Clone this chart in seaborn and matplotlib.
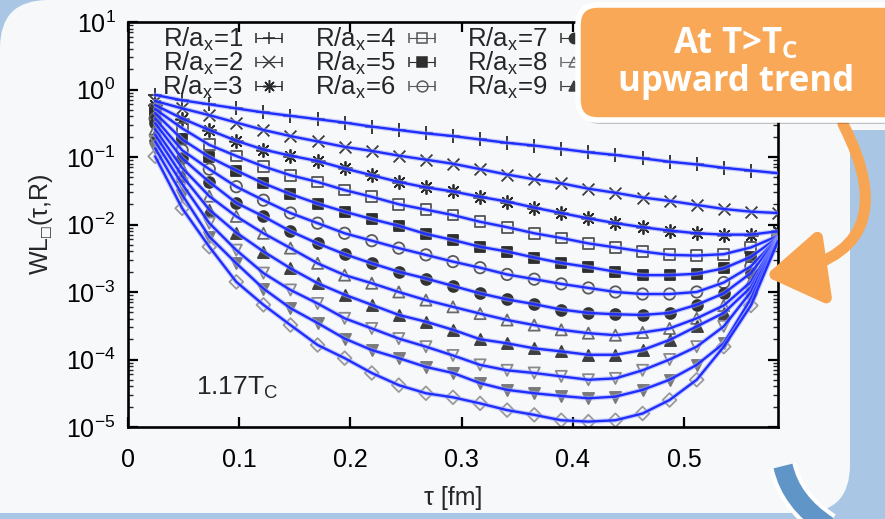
import numpy as np
import pandas as pd
import matplotlib
matplotlib.use("Agg")
import matplotlib.pyplot as plt
import seaborn as sns
from matplotlib.patches import FancyBboxPatch, FancyArrowPatch, PathPatch, Rectangle
from matplotlib.path import Path
from matplotlib.transforms import IdentityTransform
import matplotlib.patheffects as pe
from matplotlib.ticker import LogLocator, NullFormatter

# ---------------- data ----------------
tau_fm = [0.0244, 0.0487, 0.0731, 0.0974, 0.1218, 0.1461, 0.1705, 0.1948,
          0.2192, 0.2435, 0.2679, 0.2922, 0.3166, 0.3409, 0.3653, 0.3896,
          0.4140, 0.4383, 0.4627, 0.4870, 0.5114, 0.5357, 0.5601, 0.5844]

# log10 of WL(tau, R) for R/a_x = 1 ... 12
log10_wl_R1 = [-0.08, -0.16, -0.22, -0.28, -0.34, -0.39, -0.44, -0.49, -0.55, -0.60, -0.65, -0.69,
               -0.74, -0.79, -0.83, -0.88, -0.93, -0.97, -1.02, -1.07, -1.11, -1.16, -1.20, -1.24]
log10_wl_R2 = [-0.17, -0.28, -0.38, -0.49, -0.60, -0.69, -0.77, -0.85, -0.91, -0.98, -1.04, -1.10,
               -1.18, -1.26, -1.33, -1.39, -1.47, -1.53, -1.60, -1.65, -1.71, -1.77, -1.81, -1.83]
log10_wl_R3 = [-0.23, -0.43, -0.60, -0.76, -0.89, -0.98, -1.06, -1.17, -1.27, -1.37, -1.45, -1.51,
               -1.59, -1.66, -1.75, -1.83, -1.91, -1.98, -2.04, -2.09, -2.13, -2.15, -2.15, -2.10]
log10_wl_R4 = [-0.29, -0.575, -0.82, -0.985, -1.14, -1.27, -1.37, -1.49, -1.59, -1.70, -1.78, -1.86,
               -1.96, -2.04, -2.13, -2.20, -2.28, -2.34, -2.40, -2.45, -2.46, -2.44, -2.34, -2.17]
log10_wl_R5 = [-0.35, -0.74, -1.00, -1.20, -1.39, -1.55, -1.69, -1.81, -1.92, -2.02, -2.14, -2.23,
               -2.33, -2.40, -2.49, -2.57, -2.63, -2.70, -2.75, -2.75, -2.73, -2.65, -2.48, -2.19]
log10_wl_R6 = [-0.43, -0.90, -1.18, -1.44, -1.64, -1.83, -1.98, -2.13, -2.24, -2.35, -2.45, -2.55,
               -2.64, -2.74, -2.81, -2.88, -2.94, -3.00, -3.03, -3.03, -3.00, -2.86, -2.62, -2.20]
log10_wl_R7 = [-0.50, -1.02, -1.37, -1.68, -1.88, -2.10, -2.28, -2.44, -2.575, -2.70, -2.80, -2.91,
               -3.02, -3.11, -3.18, -3.26, -3.31, -3.33, -3.34, -3.31, -3.19, -3.02, -2.72, -2.20]
log10_wl_R8 = [-0.59, -1.16, -1.58, -1.88, -2.13, -2.35, -2.575, -2.75, -2.87, -3.00, -3.12, -3.22,
               -3.32, -3.415, -3.49, -3.56, -3.61, -3.64, -3.60, -3.54, -3.39, -3.20, -2.85, -2.21]
log10_wl_R9 = [-0.67, -1.28, -1.78, -2.12, -2.40, -2.65, -2.87, -3.04, -3.19, -3.34, -3.44, -3.56,
               -3.70, -3.76, -3.835, -3.88, -3.93, -3.93, -3.86, -3.71, -3.51, -3.31, -2.93, -2.22]
log10_wl_R10 = [-0.77, -1.40, -1.98, -2.38, -2.72, -2.97, -3.17, -3.39, -3.54, -3.69, -3.81, -3.94,
                -4.08, -4.16, -4.20, -4.25, -4.30, -4.28, -4.16, -4.00, -3.81, -3.51, -3.00, -2.23]
log10_wl_R11 = [-0.87, -1.56, -2.18, -2.575, -2.95, -3.24, -3.46, -3.69, -3.86, -3.98, -4.11, -4.20,
                -4.35, -4.45, -4.50, -4.54, -4.575, -4.55, -4.45, -4.30, -4.08, -3.76, -3.10, -2.24]
log10_wl_R12 = [-0.99, -1.76, -2.33, -2.85, -3.19, -3.49, -3.785, -3.98, -4.20, -4.38, -4.50, -4.56,
                -4.65, -4.75, -4.82, -4.90, -4.92, -4.90, -4.80, -4.60, -4.30, -3.81, -3.20, -2.25]

R_over_a = [1, 2, 3, 4, 5, 6, 7, 8, 9, 10, 11, 12]
series = [log10_wl_R1, log10_wl_R2, log10_wl_R3, log10_wl_R4, log10_wl_R5, log10_wl_R6,
          log10_wl_R7, log10_wl_R8, log10_wl_R9, log10_wl_R10, log10_wl_R11, log10_wl_R12]
legend_R_visible = [1, 2, 3, 4, 5, 6, 7, 8, 9]   # the rest of the key is hidden by the call-out
legend_labels = [r"R/a$_\mathregular{x}$=%d" % r for r in legend_R_visible]
x_ticks = [0, 0.1, 0.2, 0.3, 0.4, 0.5]
x_tick_labels = ["0", "0.1", "0.2", "0.3", "0.4", "0.5"]
temperature_label = r"1.17T$_\mathregular{C}$"
callout_line1 = r"At T>T$_\mathbf{C}$"
callout_line2 = "upward trend"

rows = []
for r, vals in zip(R_over_a, series):
    for t, v in zip(tau_fm, vals):
        rows.append({"R": r, "tau": t, "WL": 10.0 ** v})
df = pd.DataFrame(rows)

# ---------------- styles ----------------
markers = ["+", "x", (8, 2, 0), "s", "s", "o", "o", "^", "^", "v", "v", "D"]
filled = [None, None, None, False, True, False, True, False, True, False, True, False]
mcolors = ["#2a2a2a", "#3a3a3a", "#2a2a2a", "#555555", "#2e2e2e", "#5a5a5a", "#333333",
           "#6a6a6a", "#3f3f3f", "#8a8a8a", "#7a7a7a", "#9a9a9a"]
msizes = [9.5, 8.5, 9.5, 7.8, 7.2, 8.2, 7.8, 8, 8, 8, 8, 7]
blue = "#1f2eff"
FS = 18

sns.set_style("ticks")
plt.rcParams["font.family"] = ["Liberation Sans", "DejaVu Sans"]
plt.rcParams["mathtext.fontset"] = "custom"
plt.rcParams["mathtext.rm"] = "Liberation Sans"
plt.rcParams["mathtext.it"] = "Liberation Sans:italic"
plt.rcParams["mathtext.bf"] = "Open Sans:bold"
plt.rcParams["mathtext.fallback"] = "stixsans"
plt.rcParams["axes.unicode_minus"] = False

W, H = 885, 519
fig = plt.figure(figsize=(W / 100, H / 100), dpi=100)
fig.patch.set_facecolor("#a9c7e4")

ident = IdentityTransform()
# slide panel
fig.add_artist(FancyBboxPatch((0, 6), 850, H - 6, boxstyle="round,pad=0,rounding_size=48",
                              transform=ident, fc="#f7f8fa", ec="none", zorder=-10))
fig.add_artist(Rectangle((0, 6), 120, 120, transform=ident, fc="#f7f8fa", ec="none", zorder=-10))
fig.add_artist(Rectangle((700, H - 130), 185, 130, transform=ident, fc="#f7f8fa", ec="none", zorder=-10))

ax = fig.add_axes([128 / W, (H - 427) / H, 650 / W, 405 / H])
ax.set_facecolor("none")

for i, r in enumerate(R_over_a):
    sub = df[df["R"] == r]
    kw = dict(s=msizes[i] ** 2, marker=markers[i], linewidth=1.3, zorder=2, legend=False, ax=ax)
    if filled[i] is None:
        sns.scatterplot(data=sub, x="tau", y="WL", color=mcolors[i], **kw)
    elif filled[i]:
        sns.scatterplot(data=sub, x="tau", y="WL", color=mcolors[i], edgecolor=mcolors[i], **kw)
    else:
        sns.scatterplot(data=sub, x="tau", y="WL", facecolor="none", edgecolor=mcolors[i], **kw)

for i, r in enumerate(R_over_a):
    sub = df[df["R"] == r]
    sns.lineplot(data=sub, x="tau", y="WL", color=blue, linewidth=1.7, estimator=None,
                 legend=False, ax=ax, zorder=3,
                 path_effects=[pe.Stroke(linewidth=3.4, foreground="#9aa4ff", alpha=0.55), pe.Normal()])

ax.set_yscale("log")
ax.set_xlim(0, 0.5845)
ax.set_ylim(1e-5, 1e1)
ax.set_xticks(x_ticks)
ax.set_xticklabels(x_tick_labels)
ax.yaxis.set_major_locator(LogLocator(base=10, numticks=20))
ax.yaxis.set_minor_locator(LogLocator(base=10, subs=np.arange(2, 10), numticks=100))
ax.yaxis.set_minor_formatter(NullFormatter())
ax.tick_params(axis="both", which="major", direction="in", length=7, width=1.6,
               top=True, right=True, labelsize=FS, colors="black")
ax.tick_params(axis="x", which="major", pad=15)
ax.tick_params(axis="y", which="major", pad=9)
ax.tick_params(axis="y", which="minor", direction="in", length=3.5, width=1.0, left=True, right=True)
ax.tick_params(axis="x", which="minor", bottom=False, top=False)
for sp in ax.spines.values():
    sp.set_linewidth(1.9)
    sp.set_color("black")

ax.set_xlabel("τ [fm]", fontsize=FS, labelpad=10)
ax.set_ylabel("WL$_{□}$(τ,R)", fontsize=FS, labelpad=8)

ax.text(0.061, 10 ** -4.53, temperature_label, fontsize=19, ha="left", va="baseline")

# legend with error-bar style samples
handles = []
for r in legend_R_visible:
    i = R_over_a.index(r)
    mfc = mcolors[i] if filled[i] else "none"
    h = ax.errorbar([np.nan], [np.nan], xerr=[0.01], marker=markers[i],
                    linestyle="none", ms=msizes[i] * 0.95, mfc=mfc, mec=mcolors[i],
                    mew=1.1, ecolor=mcolors[i], elinewidth=0.8, capsize=3.5)
    handles.append(h)
leg = ax.legend(handles, legend_labels, ncol=3, loc="upper left", bbox_to_anchor=(0.053, 0.99),
                frameon=False, markerfirst=False, fontsize=18.5, handlelength=1.15,
                handletextpad=0.45, columnspacing=1.2, labelspacing=-0.12, borderpad=0,
                borderaxespad=0)

# ---------------- callout ----------------
fig.add_artist(FancyBboxPatch((581, H - 124), 330, 115, boxstyle="round,pad=0,rounding_size=20",
                              transform=ident, fc=(0, 0, 0, 0.22), ec="none", zorder=9))
fig.add_artist(FancyBboxPatch((578, H - 120), 330, 115, boxstyle="round,pad=0,rounding_size=20",
                              transform=ident, fc="#f9a857", ec="white", lw=4, zorder=10))
fig.text(736, H - 53, callout_line1, transform=ident, ha="center", va="baseline",
         fontsize=25, color="white", fontweight="bold", family="Open Sans", zorder=11)
fig.text(736, H - 91, callout_line2, transform=ident, ha="center", va="baseline",
         fontsize=25, color="white", fontweight="bold", family="Open Sans", zorder=11)

arrow = FancyArrowPatch(posA=(843, H - 124), posB=(765, H - 276), transform=ident,
                        connectionstyle="arc3,rad=-0.7",
                        arrowstyle="-|>,head_length=1.7,head_width=1.1", mutation_scale=20,
                        color="#f7a553", lw=8, shrinkA=0, shrinkB=0, zorder=8)
fig.add_artist(arrow)

arc = Path([(783, H - 466), (791, H - 502), (828, H - 526)],
           [Path.MOVETO, Path.CURVE3, Path.CURVE3])
fig.add_artist(PathPatch(arc, transform=ident, fc="none", ec="#6095c8", lw=14, capstyle="butt",
                         zorder=6, path_effects=[pe.Stroke(linewidth=20, foreground="white"), pe.Normal()]))

fig.savefig("out.png", dpi=100, facecolor=fig.get_facecolor())
